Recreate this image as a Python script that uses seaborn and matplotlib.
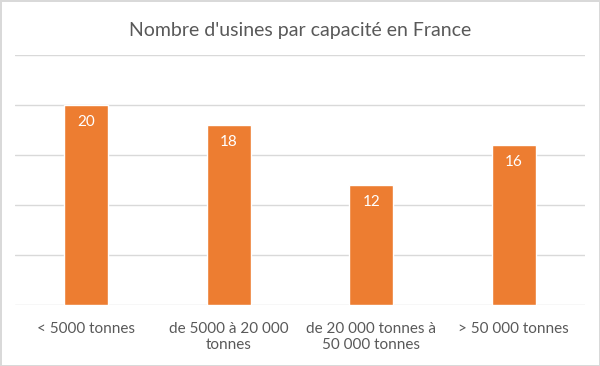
import matplotlib
matplotlib.use("Agg")
import matplotlib.pyplot as plt
import seaborn as sns
import pandas as pd

# ── Data ──
categories = ["< 5000 tonnes", "de 5000 à 20 000\ntonnes",
              "de 20 000 tonnes à\n50 000 tonnes", "> 50 000 tonnes"]
counts = [20, 18, 12, 16]
title = "Nombre d'usines par capacité en France"

df = pd.DataFrame({"cat": categories, "n": counts})

sns.set_theme(style="white")
plt.rcParams['font.family'] = ['Lato', 'DejaVu Sans']

fig = plt.figure(figsize=(6, 3.66), dpi=100)
fig.patch.set_edgecolor("#d9d9d9")
fig.patch.set_linewidth(2)
ax = fig.add_axes([0.025, 0.1667, 0.95, 0.6833])

sns.barplot(data=df, x="cat", y="n", color="#ED7D31", saturation=1,
            width=0.31, ax=ax)

ax.set_ylim(0, 25)
ax.set_yticks([0, 5, 10, 15, 20, 25])
ax.yaxis.grid(True, color="#d9d9d9", linewidth=1)
ax.set_axisbelow(True)
ax.tick_params(axis="y", left=False, labelleft=False)
ax.tick_params(axis="x", bottom=False, labelsize=11, labelcolor="#595959", pad=6)
for s in ax.spines.values():
    s.set_visible(False)
ax.set_xlabel("")
ax.set_ylabel("")

for i, v in enumerate(counts):
    ax.annotate(str(v), (i, v), xytext=(0, -7), textcoords="offset points",
                ha="center", va="top", color="white", fontsize=11)

fig.text(0.5, 0.918, title, ha="center", va="center", fontsize=14, color="#595959")

fig.savefig("out.png", dpi=100)
